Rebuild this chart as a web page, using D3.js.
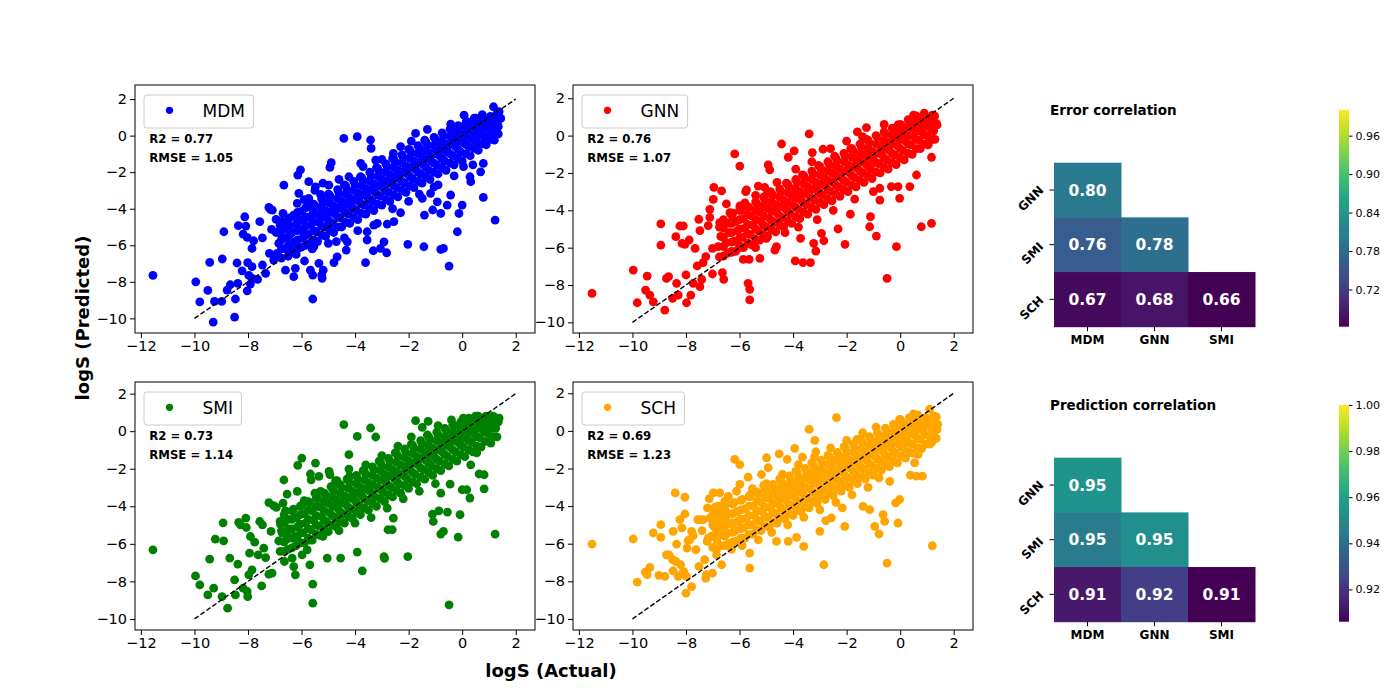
<!DOCTYPE html>
<html>
<head>
<meta charset="utf-8">
<script src="https://cdn.jsdelivr.net/npm/d3@7"></script>
<style>
body { margin: 0; background: #fff; }
text { font-family: "DejaVu Sans", sans-serif; }
</style>
</head>
<body>
<svg id="chart" width="1400" height="700"></svg>
<script>
// ---- data ----
const models = ["MDM", "GNN", "SMI", "SCH"];
const modelColors = ["#0000ff", "#ff0000", "#008000", "#ffa500"];
const r2Values = ["0.77", "0.76", "0.73", "0.69"];
const rmseValues = ["1.05", "1.07", "1.14", "1.23"];
const xTicks = [-12, -10, -8, -6, -4, -2, 0, 2];
const yTicks = [2, 0, -2, -4, -6, -8, -10];
const identityLine = [-10, 2];

// [actual, predicted] pairs
const mdmPoints = [
[-11.55,-7.65],[-9.95,-8.0],[-9.8,-9.1],[-9.5,-8.47],[-9.43,-6.94],[-9.3,-10.2],[-9.25,-9.07],[-8.98,-9.07],[-8.9,-5.26],[-8.96,-6.75],
[-8.78,-8.45],[-8.66,-8.16],[-8.47,-8.94],[-8.5,-9.93],[-8.41,-6.97],[-8.38,-8.09],[-8.36,-4.93],[-8.22,-7.4],[-8.18,-5.39],[-8.12,-4.44],
[-8.08,-4.95],[-8.03,-5.57],[-8.01,-6.95],[-8.03,-8.49],[-7.97,-7.65],[-7.91,-8.12],[-7.85,-7.17],[-7.85,-6.17],[-7.79,-5.75],[-7.84,-7.81],
[-7.64,-7.87],[-7.56,-4.71],[-7.46,-5.6],[-7.46,-7.08],[-7.34,-7.54],[-7.22,-3.93],[-7.2,-6.44],[-7.16,-4.04],[-7.12,-5.13],[-7.09,-4.08],
[-7.04,-6.81],[-6.95,-4.58],[-6.91,-6.44],[-6.73,-5.57],[-6.66,-2.71],[-6.69,-4.26],[-6.63,-4.9],[-6.54,-6.08],[-6.6,-7.36],[-6.29,-7.72],
[-6.23,-7.26],[-6.29,-4.35],[-6.23,-5.81],[-6.14,-2.16],[-6.04,-1.88],[-6.1,-3.16],[-6.16,-3.71],[-6.04,-4.62],[-5.98,-5.2],[-5.89,-6.86],
[-5.73,-2.52],[-5.73,-3.43],[-5.67,-7.36],[-5.58,-7.63],[-5.58,-8.94],[-5.54,-6.08],[-5.48,-2.8],[-5.35,-6.99],[-5.29,-3.22],[-5.25,-7.63],
[-5.23,-7.81],[-5.19,-7.36],[-4.98,-2.71],[-4.94,-1.74],[-4.89,-1.48],[-4.98,-3.62],[-4.79,-6.95],[-4.67,-6.63],[-4.42,-0.15],[-4.23,-2.25],
[-4.29,-5.81],[-4.33,-6.26],[-3.92,-0.06],[-3.79,-1.52],[-3.61,-6.95],[-3.55,-5.26],[-3.55,-5.71],[-3.42,-0.24],[-3.4,-0.7],[-3.32,-6.3],
[-3.23,-1.34],[-3.17,-4.8],[-3.05,-6.17],[-2.92,-5.81],[-2.82,-6.41],[-2.8,-4.84],[-2.57,-0.97],[-2.55,-4.71],[-2.3,-4.22],[-2.03,-5.95],
[-1.74,0.12],[-1.43,-6.08],[-1.41,-4.35],[-1.3,0.34],[-1.18,-3.16],[-1.1,-4.07],[-0.8,-4.26],[-0.8,-6.23],[-0.7,-6.17],[-0.49,-7.14],
[-0.43,0.63],[-0.18,-5.26],[-0.12,-4.26],[0,-3.8],[0.07,1.12],[0.29,-2.25],[0.79,-3.38],[1.17,1.58],[1.23,-4.62],[1.38,1.31],
[1.44,0.94],[0.32,-2.52],[0.69,-1.98],[0.79,-1.52],[0.54,-0.7],[0.05,-1.7],[-0.43,-3.25],[-0.56,-3.8],[-0.93,-3.62],[-1.05,-2.8],[-1.49,-3.43],
[-5.9,-3.5],[-5.5,-3.0],[-5.2,-2.6],[-4.6,-2.4],[-3.7,-1.7],[-3.0,-1.3],[-2.3,-0.6],[-1.9,-0.3],[-4.4,-5.6],[-3.9,-5.2],
[-3.3,-4.9],[-2.6,-4.0],[-2.0,-3.6],[-1.6,-3.2],[-0.9,-2.7],[-0.3,-2.2],[0.4,-1.6],[-6.5,-6.6],[-6.2,-6.5],[-5.6,-6.2],[-5.0,-5.9],[-4.7,-5.8],
[-6.9,-6.5],[-6.85,-5.9],[-6.95,-5.3],[-6.8,-4.9],[-6.6,-6.2],[-6.55,-5.6],[-6.65,-5.1],[-6.5,-4.6],
[-6.3,-6.3],[-6.25,-5.8],[-6.35,-5.3],[-6.2,-4.85],[-6.3,-4.4],[-6.0,-6.1],[-5.95,-5.6],[-6.05,-5.1],[-5.9,-4.6],[-6.0,-4.15],
[-5.7,-5.9],[-5.75,-5.4],[-5.65,-4.9],[-5.7,-4.45],[-5.6,-4.0],[-5.75,-3.6],[-5.4,-5.8],[-5.45,-5.25],[-5.35,-4.75],[-5.4,-4.3],[-5.5,-3.85],
[-5.1,-5.5],[-5.15,-5.0],[-5.05,-4.55],[-5.1,-4.1],[-5.2,-3.65],[-5.0,-3.2],[-4.8,-5.3],[-4.85,-4.8],[-4.75,-4.3],[-4.8,-3.85],[-4.9,-3.4],
[-4.5,-5.0],[-4.55,-4.5],[-4.45,-4.05],[-4.5,-3.6],[-4.6,-3.15],[-4.4,-2.7],[-4.2,-4.8],[-4.25,-4.3],[-4.15,-3.85],[-4.2,-3.4],[-4.3,-2.95],
[-3.9,-4.6],[-3.95,-4.1],[-3.85,-3.6],[-3.9,-3.15],[-4.0,-2.7],[-3.8,-2.25],[-3.6,-4.3],[-3.65,-3.8],[-3.55,-3.35],[-3.6,-2.9],[-3.7,-2.45],
[-3.3,-4.1],[-3.35,-3.6],[-3.25,-3.1],[-3.3,-2.65],[-3.4,-2.2],[-3.2,-1.75],[-3.0,-3.8],[-3.05,-3.3],[-2.95,-2.85],[-3.0,-2.4],[-3.1,-1.95],
[-2.7,-3.6],[-2.75,-3.1],[-2.65,-2.6],[-2.7,-2.15],[-2.8,-1.7],[-2.6,-1.25],[-2.4,-3.35],[-2.45,-2.85],[-2.35,-2.35],[-2.4,-1.9],[-2.5,-1.45],
[-2.1,-3.1],[-2.15,-2.6],[-2.05,-2.1],[-2.1,-1.65],[-2.2,-1.2],[-2.0,-0.75],[-1.8,-2.85],[-1.85,-2.35],[-1.75,-1.85],[-1.8,-1.4],[-1.9,-0.95],
[-1.5,-2.6],[-1.55,-2.1],[-1.45,-1.6],[-1.5,-1.15],[-1.6,-0.7],[-1.4,-0.25],[-1.2,-2.4],[-1.25,-1.9],[-1.15,-1.4],[-1.2,-0.95],[-1.3,-0.5],
[-0.9,-2.1],[-0.95,-1.6],[-0.85,-1.1],[-0.9,-0.65],[-1.0,-0.2],[-0.6,-1.9],[-0.65,-1.4],[-0.55,-0.9],[-0.6,-0.45],[-0.7,0.0],
[-0.3,-1.6],[-0.35,-1.1],[-0.25,-0.6],[-0.3,-0.15],[-0.4,0.3],[0.0,-1.4],[-0.05,-0.9],[0.05,-0.4],[0.0,0.05],[-0.1,0.5],
[0.3,-1.1],[0.25,-0.6],[0.35,-0.15],[0.3,0.3],[0.2,0.75],[0.6,-0.8],[0.55,-0.35],[0.65,0.1],[0.6,0.55],[0.5,0.95],
[0.9,-0.5],[0.85,-0.05],[0.95,0.4],[0.9,0.8],[1.2,-0.25],[1.15,0.2],[1.25,0.6],[1.1,1.0],[1.3,0.85]
];
// the dense core of the MDM cloud
const mdmCore = [
[-6.75,-6.7],[-6.75,-6.2],[-6.75,-5.7],[-6.75,-5.2],[-6.75,-4.7],[-6.45,-6.45],[-6.45,-5.95],[-6.45,-5.45],[-6.45,-4.95],[-6.45,-4.5],
[-6.15,-6.2],[-6.15,-5.7],[-6.15,-5.2],[-6.15,-4.7],[-6.15,-4.2],[-5.85,-6.0],[-5.85,-5.45],[-5.85,-4.95],[-5.85,-4.45],[-5.85,-3.95],
[-5.55,-5.7],[-5.55,-5.2],[-5.55,-4.7],[-5.55,-4.2],[-5.55,-3.75],[-5.25,-5.45],[-5.25,-4.95],[-5.25,-4.45],[-5.25,-3.95],[-5.25,-3.45],
[-4.95,-5.2],[-4.95,-4.7],[-4.95,-4.2],[-4.95,-3.7],[-4.95,-3.25],[-4.65,-5.0],[-4.65,-4.45],[-4.65,-3.95],[-4.65,-3.45],[-4.65,-2.95],
[-4.35,-4.75],[-4.35,-4.2],[-4.35,-3.7],[-4.35,-3.2],[-4.35,-2.75],[-4.05,-4.5],[-4.05,-4.0],[-4.05,-3.5],[-4.05,-3.0],[-4.05,-2.5],
[-3.75,-4.25],[-3.75,-3.75],[-3.75,-3.25],[-3.75,-2.75],[-3.75,-2.3],[-3.45,-4.0],[-3.45,-3.5],[-3.45,-3.0],[-3.45,-2.5],[-3.45,-2.0],
[-3.15,-3.75],[-3.15,-3.25],[-3.15,-2.75],[-3.15,-2.25],[-3.15,-1.8],[-2.85,-3.5],[-2.85,-3.0],[-2.85,-2.5],[-2.85,-2.0],[-2.85,-1.55],
[-2.55,-3.25],[-2.55,-2.75],[-2.55,-2.25],[-2.55,-1.75],[-2.55,-1.3],[-2.25,-3.0],[-2.25,-2.5],[-2.25,-2.0],[-2.25,-1.5],[-2.25,-1.05],
[-1.95,-2.75],[-1.95,-2.25],[-1.95,-1.75],[-1.95,-1.25],[-1.95,-0.8],[-1.65,-2.5],[-1.65,-2.0],[-1.65,-1.5],[-1.65,-1.0],[-1.65,-0.55],
[-1.35,-2.25],[-1.35,-1.75],[-1.35,-1.25],[-1.35,-0.8],[-1.35,-0.35],[-1.05,-2.0],[-1.05,-1.5],[-1.05,-1.0],[-1.05,-0.55],[-1.05,-0.1],
[-0.75,-1.75],[-0.75,-1.25],[-0.75,-0.75],[-0.75,-0.3],[-0.75,0.15],[-0.45,-1.5],[-0.45,-1.0],[-0.45,-0.5],[-0.45,-0.05],[-0.45,0.35],
[-0.15,-1.25],[-0.15,-0.75],[-0.15,-0.3],[-0.15,0.15],[-0.15,0.55],[0.15,-1.0],[0.15,-0.5],[0.15,-0.05],[0.15,0.4],[0.15,0.75],
[0.45,-0.7],[0.45,-0.25],[0.45,0.2],[0.45,0.6],[0.45,0.95],[0.75,-0.45],[0.75,0.0],[0.75,0.4],[0.75,0.8],[0.75,1.15],
[1.05,-0.2],[1.05,0.25],[1.05,0.65],[1.05,1.05],[1.35,0.1],[1.35,0.5],[1.35,0.85],[1.3,1.2]
];

const gnnPoints = [
[-11.51,-8.45],[-9.97,-7.2],[-9.82,-8.95],[-9.45,-7.52],[-9.51,-8.27],[-9.35,-8.54],[-9.22,-8.9],[-8.94,-4.73],[-8.94,-5.86],[-8.79,-9.34],
[-8.73,-7.64],[-8.65,-7.55],[-8.5,-8.71],[-8.38,-5.41],[-8.35,-7.91],[-8.29,-8.54],[-8.23,-4.84],[-8.15,-5.77],[-8.1,-4.84],[-8.04,-5.82],
[-8.0,-7.46],[-7.98,-8.95],[-7.88,-5.59],[-7.82,-8.54],[-7.73,-7.91],[-7.66,-6.04],[-7.58,-6.98],[-7.52,-4.48],[-7.48,-5.09],[-7.48,-8.09],
[-7.41,-7.7],[-7.36,-6.8],[-7.26,-6.48],[-7.17,-4.82],[-7.11,-4.38],[-7.11,-3.95],[-7.01,-6.04],[-7.01,-7.41],[-6.98,-3.41],[-6.96,-2.77],
[-6.74,-4.66],[-6.67,-2.96],[-6.64,-7.34],[-6.59,-7.7],[-6.49,-3.66],[-6.36,-4.13],[-6.26,-4.52],[-6.18,-0.98],[-5.99,-1.63],[-5.99,-3.77],
[-5.86,-6.63],[-5.77,-3.0],[-5.74,-2.91],[-5.68,-7.91],[-5.62,-8.23],[-5.62,-8.8],[-5.64,-6.63],[-5.3,-2.7],[-5.24,-6.57],[-5.06,-2.77],
[-4.97,-3.09],[-4.93,-1.57],[-4.87,-1.84],[-4.68,-6.13],[-4.62,-5.95],[-4.43,-0.45],[-4.18,-1.16],[-3.96,-0.82],[-3.92,-6.71],[-3.72,-5.5],
[-3.63,-6.8],[-3.4,0.09],[-3.35,-6.8],[-3.28,-0.91],[-3.23,-5.77],[-3.15,-6.18],[-2.94,-5.23],[-2.88,-0.73],[-2.85,-5.63],[-2.32,-5.0],
[-2.06,-5.82],[-1.86,-4.21],[-1.41,-0.05],[-1.26,0.43],[-1.14,-4.88],[-1.11,-4.34],[-0.89,-5.38],[-0.76,-3.45],[-0.49,-7.64],[-0.14,-5.95],
[-0.08,0.57],[-0.02,-3.36],[0.36,-2.73],[0.61,-2.11],[0.79,-4.88],[1.17,-1.16],[1.17,-4.7],[1.38,0.57],[1.29,1.05],[1.04,-0.5],
[-0.08,-2.73],[-0.33,-2.73],[-0.76,-2.82],
[-6.0,-5.9],[-6.3,-6.2],[-5.4,-6.0],[-5.0,-5.5],[-4.3,-5.2],[-3.8,-4.9],[-3.1,-4.5],[-2.5,-4.0],[-1.7,-3.4],[-1.0,-3.0],
[-5.8,-3.6],[-5.4,-3.2],[-4.6,-2.5],[-3.9,-1.8],[-3.3,-1.4],[-2.6,-0.7],[-2.0,-0.3],[-1.6,0.2],[-0.6,0.6],[0.5,1.1],[0.9,1.2],[1.2,0.8],
[-6.75,-6.5],[-6.8,-5.95],[-6.7,-5.4],[-6.75,-4.9],[-6.45,-6.3],[-6.5,-5.75],[-6.4,-5.2],[-6.45,-4.7],
[-6.15,-6.2],[-6.2,-5.65],[-6.1,-5.1],[-6.15,-4.6],[-6.25,-4.15],[-5.85,-6.0],[-5.9,-5.45],[-5.8,-4.95],[-5.85,-4.45],[-5.95,-4.0],
[-5.55,-5.85],[-5.6,-5.3],[-5.5,-4.8],[-5.55,-4.3],[-5.65,-3.85],[-5.25,-5.6],[-5.3,-5.1],[-5.2,-4.6],[-5.25,-4.1],[-5.35,-3.65],
[-4.95,-5.4],[-5.0,-4.9],[-4.9,-4.4],[-4.95,-3.9],[-5.05,-3.45],[-4.85,-3.0],[-4.65,-5.15],[-4.7,-4.65],[-4.6,-4.15],[-4.65,-3.7],[-4.75,-3.2],
[-4.35,-4.9],[-4.4,-4.4],[-4.3,-3.9],[-4.35,-3.45],[-4.45,-3.0],[-4.25,-2.55],[-4.05,-4.7],[-4.1,-4.2],[-4.0,-3.7],[-4.05,-3.2],[-4.15,-2.75],
[-3.75,-4.45],[-3.8,-3.95],[-3.7,-3.45],[-3.75,-3.0],[-3.85,-2.5],[-3.65,-2.1],[-3.45,-4.2],[-3.5,-3.7],[-3.4,-3.2],[-3.45,-2.75],[-3.55,-2.3],
[-3.15,-3.95],[-3.2,-3.45],[-3.1,-2.95],[-3.15,-2.5],[-3.25,-2.05],[-3.05,-1.6],[-2.85,-3.7],[-2.9,-3.2],[-2.8,-2.7],[-2.85,-2.25],[-2.95,-1.8],
[-2.55,-3.5],[-2.6,-3.0],[-2.5,-2.5],[-2.55,-2.0],[-2.65,-1.55],[-2.45,-1.1],[-2.25,-3.25],[-2.3,-2.75],[-2.2,-2.25],[-2.25,-1.8],[-2.35,-1.35],
[-1.95,-3.0],[-2.0,-2.5],[-1.9,-2.0],[-1.95,-1.55],[-2.05,-1.1],[-1.85,-0.7],[-1.65,-2.75],[-1.7,-2.25],[-1.6,-1.75],[-1.65,-1.3],[-1.75,-0.85],
[-1.35,-2.5],[-1.4,-2.0],[-1.3,-1.5],[-1.35,-1.05],[-1.45,-0.6],[-1.25,-0.2],[-1.05,-2.3],[-1.1,-1.8],[-1.0,-1.3],[-1.05,-0.85],[-1.15,-0.4],
[-0.75,-2.0],[-0.8,-1.5],[-0.7,-1.0],[-0.75,-0.55],[-0.85,-0.1],[-0.45,-1.8],[-0.5,-1.3],[-0.4,-0.8],[-0.45,-0.35],[-0.55,0.1],
[-0.15,-1.55],[-0.2,-1.05],[-0.1,-0.55],[-0.15,-0.1],[-0.25,0.3],[0.15,-1.3],[0.1,-0.8],[0.2,-0.3],[0.15,0.15],[0.05,0.55],
[0.45,-1.0],[0.4,-0.5],[0.5,-0.05],[0.45,0.4],[0.35,0.8],[0.75,-0.7],[0.7,-0.25],[0.8,0.2],[0.75,0.6],[0.65,1.0],
[1.05,-0.45],[1.0,0.0],[1.1,0.45],[1.05,0.85],[1.3,-0.2],[1.25,0.25],[1.35,0.65],[1.2,1.0]
];
const gnnCore = [
[-6.6,-6.45],[-6.6,-5.95],[-6.6,-5.45],[-6.6,-4.95],[-6.6,-4.5],[-6.3,-6.25],[-6.3,-5.7],[-6.3,-5.2],[-6.3,-4.7],[-6.3,-4.25],
[-6.0,-6.0],[-6.0,-5.5],[-6.0,-5.0],[-6.0,-4.5],[-6.0,-4.0],[-5.7,-5.75],[-5.7,-5.25],[-5.7,-4.75],[-5.7,-4.25],[-5.7,-3.8],
[-5.4,-5.55],[-5.4,-5.0],[-5.4,-4.5],[-5.4,-4.0],[-5.4,-3.55],[-5.1,-5.3],[-5.1,-4.8],[-5.1,-4.3],[-5.1,-3.8],[-5.1,-3.3],
[-4.8,-5.05],[-4.8,-4.55],[-4.8,-4.05],[-4.8,-3.55],[-4.8,-3.1],[-4.5,-4.8],[-4.5,-4.3],[-4.5,-3.8],[-4.5,-3.3],[-4.5,-2.85],
[-4.2,-4.6],[-4.2,-4.05],[-4.2,-3.55],[-4.2,-3.05],[-4.2,-2.6],[-3.9,-4.35],[-3.9,-3.85],[-3.9,-3.35],[-3.9,-2.85],[-3.9,-2.35],
[-3.6,-4.1],[-3.6,-3.6],[-3.6,-3.1],[-3.6,-2.6],[-3.6,-2.15],[-3.3,-3.85],[-3.3,-3.35],[-3.3,-2.85],[-3.3,-2.35],[-3.3,-1.9],
[-3.0,-3.6],[-3.0,-3.1],[-3.0,-2.6],[-3.0,-2.1],[-3.0,-1.65],[-2.7,-3.4],[-2.7,-2.9],[-2.7,-2.4],[-2.7,-1.9],[-2.7,-1.4],
[-2.4,-3.15],[-2.4,-2.65],[-2.4,-2.15],[-2.4,-1.65],[-2.4,-1.2],[-2.1,-2.9],[-2.1,-2.4],[-2.1,-1.9],[-2.1,-1.4],[-2.1,-0.95],
[-1.8,-2.65],[-1.8,-2.15],[-1.8,-1.65],[-1.8,-1.15],[-1.8,-0.7],[-1.5,-2.4],[-1.5,-1.9],[-1.5,-1.4],[-1.5,-0.95],[-1.5,-0.45],
[-1.2,-2.15],[-1.2,-1.65],[-1.2,-1.15],[-1.2,-0.7],[-1.2,-0.25],[-0.9,-1.95],[-0.9,-1.45],[-0.9,-0.95],[-0.9,-0.45],[-0.9,0.0],
[-0.6,-1.7],[-0.6,-1.2],[-0.6,-0.7],[-0.6,-0.25],[-0.6,0.2],[-0.3,-1.45],[-0.3,-0.95],[-0.3,-0.45],[-0.3,0.0],[-0.3,0.4],
[0.0,-1.2],[0.0,-0.7],[0.0,-0.2],[0.0,0.2],[0.0,0.6],[0.3,-0.95],[0.3,-0.45],[0.3,0.0],[0.3,0.45],[0.3,0.85],
[0.6,-0.7],[0.6,-0.2],[0.6,0.25],[0.6,0.65],[0.6,1.05],[0.9,-0.45],[0.9,0.05],[0.9,0.5],[0.9,0.9],
[1.2,-0.2],[1.2,0.3],[1.2,0.7],[1.2,1.1]
];

const smiPoints = [
[-11.55,-6.32],[-9.96,-7.71],[-9.8,-8.19],[-9.5,-8.72],[-9.43,-6.82],[-9.28,-8.36],[-9.22,-5.75],[-8.97,-8.81],[-8.93,-4.88],[-8.91,-5.84],
[-8.76,-9.43],[-8.68,-6.76],[-8.47,-8.72],[-8.38,-7.08],[-8.35,-4.86],[-8.28,-4.99],[-8.5,-7.92],[-8.18,-8.36],[-8.08,-4.63],[-8.06,-5.13],
[-8.03,-8.54],[-8.01,-8.81],[-7.97,-7.65],[-7.94,-6.5],[-7.91,-5.61],[-7.85,-7.39],[-7.75,-5.91],[-7.62,-6.59],[-7.56,-4.81],[-7.46,-4.99],
[-7.49,-8.24],[-7.41,-6.23],[-7.34,-6.73],[-7.22,-3.8],[-7.22,-7.62],[-7.14,-5.34],[-7.1,-7.56],[-7.04,-3.96],[-6.94,-4.06],[-6.79,-4.95],
[-6.72,-5.43],[-6.69,-3.83],[-6.66,-2.6],[-6.64,-6.94],[-6.54,-3.35],[-6.54,-5.34],[-6.35,-6.76],[-6.29,-7.21],[-6.23,-7.65],[-6.16,-3.21],
[-6.14,-1.82],[-5.99,-1.43],[-5.98,-6.59],[-5.79,-6.32],[-5.69,-7.12],[-5.67,-2.28],[-5.64,-2.59],[-5.58,-8.15],[-5.58,-9.16],[-5.48,-1.7],
[-5.35,-2.41],[-5.29,-3.21],[-5.04,-6.76],[-4.97,-2.14],[-4.94,-2.32],[-4.73,-2.64],[-4.67,-2.64],[-4.54,-6.76],[-4.42,0.35],[-4.23,-1.25],
[-4.23,-2.02],[-3.92,-0.28],[-3.92,-6.44],[-3.73,-7.44],[-3.42,0.17],[-3.23,-0.31],[-2.92,-6.68],[-2.9,-6.77],[-2.77,-5.25],[-2.61,-5.25],
[-2.57,-4.63],[-2.03,-6.68],[-1.74,0.56],[-1.49,0.2],[-1.27,0.52],[-1.11,-4.42],[-1.08,-4.81],[-0.87,-4.24],[-0.8,-5.48],[-0.7,-5.34],
[-0.8,-3.3],[-0.55,-4.31],[-0.49,-9.25],[-0.45,-2.82],[-0.15,-5.64],[-0.08,-4.45],[0.0,-3.12],[0.17,-3.12],[0.29,-3.56],[0.32,-1.79],
[0.54,-1.16],[0.63,-2.28],[0.82,-2.32],[0.82,-3.07],[1.07,-0.63],[1.23,-5.48],[0.04,0.7],[1.38,0.7],
[-6.1,-5.9],[-5.7,-5.8],[-5.2,-5.6],[-4.6,-5.3],[-4.0,-4.9],[-3.4,-4.6],[-2.8,-4.1],[-2.2,-3.6],[-1.6,-3.2],[-1.0,-2.8],
[-5.9,-3.7],[-5.5,-3.3],[-4.8,-2.9],[-4.2,-2.4],[-3.6,-1.8],[-3.0,-1.3],[-2.4,-0.8],[-1.9,-0.3],[-0.9,0.3],[-0.4,0.6],[0.5,0.8],[0.9,0.8],
[-6.8,-6.4],[-6.85,-5.85],[-6.75,-5.3],[-6.8,-4.8],[-6.5,-6.3],[-6.55,-5.75],[-6.45,-5.2],[-6.5,-4.7],[-6.6,-4.25],
[-6.2,-6.1],[-6.25,-5.6],[-6.15,-5.1],[-6.2,-4.6],[-6.3,-4.15],[-5.9,-5.95],[-5.95,-5.4],[-5.85,-4.9],[-5.9,-4.4],[-6.0,-3.95],
[-5.6,-5.8],[-5.65,-5.25],[-5.55,-4.75],[-5.6,-4.25],[-5.7,-3.8],[-5.3,-5.55],[-5.35,-5.05],[-5.25,-4.55],[-5.3,-4.05],[-5.4,-3.6],
[-5.0,-5.35],[-5.05,-4.85],[-4.95,-4.35],[-5.0,-3.85],[-5.1,-3.4],[-4.9,-2.95],[-4.7,-5.1],[-4.75,-4.6],[-4.65,-4.1],[-4.7,-3.65],[-4.8,-3.2],
[-4.4,-4.9],[-4.45,-4.4],[-4.35,-3.9],[-4.4,-3.45],[-4.5,-3.0],[-4.3,-2.55],[-4.1,-4.65],[-4.15,-4.15],[-4.05,-3.65],[-4.1,-3.2],[-4.2,-2.75],
[-3.8,-4.45],[-3.85,-3.95],[-3.75,-3.45],[-3.8,-3.0],[-3.9,-2.55],[-3.7,-2.1],[-3.5,-4.2],[-3.55,-3.7],[-3.45,-3.2],[-3.5,-2.75],[-3.6,-2.3],
[-3.2,-4.0],[-3.25,-3.5],[-3.15,-3.0],[-3.2,-2.5],[-3.3,-2.05],[-3.1,-1.6],[-2.9,-3.75],[-2.95,-3.25],[-2.85,-2.75],[-2.9,-2.3],[-3.0,-1.85],
[-2.6,-3.5],[-2.65,-3.0],[-2.55,-2.5],[-2.6,-2.05],[-2.7,-1.6],[-2.5,-1.15],[-2.3,-3.3],[-2.35,-2.8],[-2.25,-2.3],[-2.3,-1.8],[-2.4,-1.35],
[-2.0,-3.05],[-2.05,-2.55],[-1.95,-2.05],[-2.0,-1.6],[-2.1,-1.15],[-1.9,-0.7],[-1.7,-2.8],[-1.75,-2.3],[-1.65,-1.8],[-1.7,-1.35],[-1.8,-0.9],
[-1.4,-2.55],[-1.45,-2.05],[-1.35,-1.55],[-1.4,-1.1],[-1.5,-0.65],[-1.3,-0.2],[-1.1,-2.35],[-1.15,-1.85],[-1.05,-1.35],[-1.1,-0.9],[-1.2,-0.45],
[-0.8,-2.1],[-0.85,-1.6],[-0.75,-1.1],[-0.8,-0.65],[-0.9,-0.2],[-0.5,-1.85],[-0.55,-1.35],[-0.45,-0.85],[-0.5,-0.4],[-0.6,0.05],
[-0.2,-1.6],[-0.25,-1.1],[-0.15,-0.6],[-0.2,-0.15],[-0.3,0.3],[0.1,-1.35],[0.05,-0.85],[0.15,-0.4],[0.1,0.05],[0.0,0.45],
[0.4,-1.1],[0.35,-0.6],[0.45,-0.15],[0.4,0.3],[0.3,0.65],[0.7,-0.85],[0.65,-0.35],[0.75,0.1],[0.7,0.5],[0.6,0.8],
[1.0,-0.55],[0.95,-0.1],[1.05,0.3],[1.0,0.65],[1.3,-0.3],[1.25,0.15],[1.35,0.5],[1.2,0.75]
];
const smiCore = [
[-6.65,-6.4],[-6.65,-5.9],[-6.65,-5.4],[-6.65,-4.9],[-6.65,-4.45],[-6.35,-6.2],[-6.35,-5.7],[-6.35,-5.2],[-6.35,-4.7],[-6.35,-4.25],
[-6.05,-5.95],[-6.05,-5.45],[-6.05,-4.95],[-6.05,-4.45],[-6.05,-4.0],[-5.75,-5.7],[-5.75,-5.2],[-5.75,-4.7],[-5.75,-4.2],[-5.75,-3.75],
[-5.45,-5.5],[-5.45,-5.0],[-5.45,-4.5],[-5.45,-4.0],[-5.45,-3.55],[-5.15,-5.25],[-5.15,-4.75],[-5.15,-4.25],[-5.15,-3.75],[-5.15,-3.3],
[-4.85,-5.0],[-4.85,-4.5],[-4.85,-4.0],[-4.85,-3.5],[-4.85,-3.05],[-4.55,-4.8],[-4.55,-4.3],[-4.55,-3.8],[-4.55,-3.3],[-4.55,-2.85],
[-4.25,-4.55],[-4.25,-4.05],[-4.25,-3.55],[-4.25,-3.05],[-4.25,-2.6],[-3.95,-4.3],[-3.95,-3.8],[-3.95,-3.3],[-3.95,-2.8],[-3.95,-2.35],
[-3.65,-4.1],[-3.65,-3.6],[-3.65,-3.1],[-3.65,-2.6],[-3.65,-2.15],[-3.35,-3.85],[-3.35,-3.35],[-3.35,-2.85],[-3.35,-2.35],[-3.35,-1.9],
[-3.05,-3.6],[-3.05,-3.1],[-3.05,-2.6],[-3.05,-2.1],[-3.05,-1.65],[-2.75,-3.4],[-2.75,-2.9],[-2.75,-2.4],[-2.75,-1.9],[-2.75,-1.45],
[-2.45,-3.15],[-2.45,-2.65],[-2.45,-2.15],[-2.45,-1.65],[-2.45,-1.2],[-2.15,-2.9],[-2.15,-2.4],[-2.15,-1.9],[-2.15,-1.4],[-2.15,-0.95],
[-1.85,-2.7],[-1.85,-2.2],[-1.85,-1.7],[-1.85,-1.2],[-1.85,-0.75],[-1.55,-2.45],[-1.55,-1.95],[-1.55,-1.45],[-1.55,-0.95],[-1.55,-0.5],
[-1.25,-2.2],[-1.25,-1.7],[-1.25,-1.2],[-1.25,-0.75],[-1.25,-0.3],[-0.95,-2.0],[-0.95,-1.5],[-0.95,-1.0],[-0.95,-0.5],[-0.95,-0.05],
[-0.65,-1.75],[-0.65,-1.25],[-0.65,-0.75],[-0.65,-0.3],[-0.65,0.15],[-0.35,-1.5],[-0.35,-1.0],[-0.35,-0.5],[-0.35,-0.05],[-0.35,0.35],
[-0.05,-1.25],[-0.05,-0.75],[-0.05,-0.3],[-0.05,0.15],[-0.05,0.5],[0.25,-1.0],[0.25,-0.5],[0.25,-0.05],[0.25,0.35],[0.25,0.7],
[0.55,-0.8],[0.55,-0.3],[0.55,0.15],[0.55,0.55],[0.55,0.8],[0.85,-0.55],[0.85,-0.05],[0.85,0.4],[0.85,0.75],
[1.15,-0.3],[1.15,0.15],[1.15,0.55],[1.15,0.8]
];

const schPoints = [
[-11.51,-6.02],[-9.97,-5.75],[-9.82,-8.04],[-9.52,-7.51],[-9.45,-7.65],[-9.35,-7.26],[-9.22,-5.43],[-9.01,-7.69],[-8.94,-5.66],[-8.94,-4.99],
[-8.79,-7.74],[-8.73,-6.59],[-8.63,-6.59],[-8.5,-6.85],[-8.48,-5.34],[-8.48,-7.44],[-8.4,-3.3],[-8.38,-6.94],[-8.35,-6.02],[-8.29,-7.74],
[-8.23,-4.72],[-8.2,-7.12],[-8.15,-5.16],[-8.13,-7.56],[-8.08,-7.48],[-8.04,-3.53],[-8.04,-4.42],[-8.0,-8.63],[-7.98,-7.74],[-7.96,-6.23],
[-7.92,-5.84],[-7.86,-5.79],[-7.79,-8.28],[-7.79,-5.34],[-7.73,-5.57],[-7.63,-6.32],[-7.56,-4.72],[-7.51,-7.21],[-7.48,-4.72],[-7.36,-4.72],
[-7.3,-6.85],[-7.26,-7.83],[-7.23,-7.65],[-7.21,-5.88],[-7.17,-5.7],[-7.13,-3.6],[-7.11,-4.63],[-7.01,-7.56],[-6.98,-3.3],[-6.98,-4.42],
[-6.92,-4.06],[-6.86,-6.59],[-6.8,-4.9],[-6.74,-3.3],[-6.67,-7.12],[-6.61,-5.25],[-6.55,-3.74],[-6.42,-3.48],[-6.36,-6.05],[-6.26,-4.99],
[-6.18,-1.52],[-6.11,-3.21],[-5.99,-1.79],[-5.99,-2.85],[-5.68,-2.46],[-5.62,-7.3],[-5.62,-6.5],[-5.52,-3.07],[-5.18,-2.32],[-4.93,-1.96],
[-4.99,-1.43],[-4.62,-5.88],[-4.52,-1.22],[-4.22,-1.52],[-4.18,-5.88],[-3.94,-0.93],[-3.87,-5.66],[-3.65,-1.4],[-3.6,-6.14],[-3.4,0.08],
[-3.19,-0.51],[-3.15,-1.11],[-3.0,-5.34],[-2.85,-7.12],[-2.78,-4.77],[-2.57,-4.63],[-2.38,0.7],[-2.36,-1.47],[-2.16,-4.1],[-2.07,-5.08],
[-1.61,-0.45],[-1.39,-4.01],[-1.14,-4.19],[-0.95,-5.08],[-0.79,-5.48],[-0.64,-4.45],[-0.58,-4.81],[-0.49,-7.03],[-0.17,-3.83],[-0.08,-4.9],
[-0.02,-3.65],[-0.02,0.61],[0.38,-2.36],[0.61,-2.41],[0.83,-2.41],[0.54,-1.7],[0.67,-1.25],[1.17,-0.63],[1.1,1.15],[1.2,-6.11],
[1.35,0.74],[1.38,0.08],[-0.79,-2.5],[-0.39,-2.68],
[-7.4,-5.3],[-7.0,-5.0],[-6.6,-4.4],[-7.2,-4.1],[-6.3,-6.3],[-5.9,-6.1],[-5.3,-5.8],[-4.8,-5.4],[-4.2,-5.0],[-3.6,-4.6],
[-3.0,-4.2],[-2.4,-3.8],[-1.8,-3.4],[-1.2,-3.0],[-5.6,-3.4],[-5.0,-2.8],[-4.4,-2.3],[-3.8,-1.8],[-3.2,-1.4],[-2.6,-0.9],
[-2.0,-0.5],[-1.4,-0.1],[-0.9,0.2],[0.0,0.6],[0.5,0.9],
[-7.0,-6.2],[-7.05,-5.6],[-6.95,-5.1],[-7.0,-4.6],[-6.7,-6.1],[-6.75,-5.55],[-6.65,-5.0],[-6.7,-4.5],[-6.8,-4.0],
[-6.4,-6.0],[-6.45,-5.45],[-6.35,-4.9],[-6.4,-4.4],[-6.5,-3.9],[-6.1,-5.85],[-6.15,-5.3],[-6.05,-4.8],[-6.1,-4.3],[-6.2,-3.8],
[-5.8,-5.7],[-5.85,-5.15],[-5.75,-4.65],[-5.8,-4.15],[-5.9,-3.65],[-5.5,-5.5],[-5.55,-5.0],[-5.45,-4.5],[-5.5,-4.0],[-5.6,-3.5],
[-5.2,-5.3],[-5.25,-4.8],[-5.15,-4.3],[-5.2,-3.8],[-5.3,-3.35],[-5.1,-2.9],[-4.9,-5.1],[-4.95,-4.6],[-4.85,-4.1],[-4.9,-3.6],[-5.0,-3.15],
[-4.6,-4.9],[-4.65,-4.4],[-4.55,-3.9],[-4.6,-3.45],[-4.7,-3.0],[-4.5,-2.55],[-4.3,-4.7],[-4.35,-4.2],[-4.25,-3.7],[-4.3,-3.25],[-4.4,-2.8],
[-4.0,-4.5],[-4.05,-4.0],[-3.95,-3.5],[-4.0,-3.05],[-4.1,-2.6],[-3.9,-2.15],[-3.7,-4.3],[-3.75,-3.8],[-3.65,-3.3],[-3.7,-2.85],[-3.8,-2.4],
[-3.4,-4.1],[-3.45,-3.6],[-3.35,-3.1],[-3.4,-2.6],[-3.5,-2.15],[-3.3,-1.7],[-3.1,-3.85],[-3.15,-3.35],[-3.05,-2.85],[-3.1,-2.4],[-3.2,-1.95],
[-2.8,-3.65],[-2.85,-3.15],[-2.75,-2.65],[-2.8,-2.2],[-2.9,-1.75],[-2.7,-1.3],[-2.5,-3.45],[-2.55,-2.95],[-2.45,-2.45],[-2.5,-2.0],[-2.6,-1.55],
[-2.2,-3.2],[-2.25,-2.7],[-2.15,-2.2],[-2.2,-1.75],[-2.3,-1.3],[-2.1,-0.85],[-1.9,-3.0],[-1.95,-2.5],[-1.85,-2.0],[-1.9,-1.55],[-2.0,-1.1],
[-1.6,-2.8],[-1.65,-2.3],[-1.55,-1.8],[-1.6,-1.35],[-1.7,-0.9],[-1.5,-0.45],[-1.3,-2.55],[-1.35,-2.05],[-1.25,-1.55],[-1.3,-1.1],[-1.4,-0.65],
[-1.0,-2.35],[-1.05,-1.85],[-0.95,-1.35],[-1.0,-0.9],[-1.1,-0.45],[-0.7,-2.1],[-0.75,-1.6],[-0.65,-1.1],[-0.7,-0.65],[-0.8,-0.2],
[-0.4,-1.9],[-0.45,-1.4],[-0.35,-0.9],[-0.4,-0.45],[-0.5,0.0],[-0.1,-1.7],[-0.15,-1.2],[-0.05,-0.7],[-0.1,-0.25],[-0.2,0.2],
[0.2,-1.45],[0.15,-0.95],[0.25,-0.5],[0.2,-0.05],[0.1,0.4],[0.5,-1.2],[0.45,-0.7],[0.55,-0.25],[0.5,0.2],[0.4,0.6],
[0.8,-0.95],[0.75,-0.45],[0.85,0.0],[0.8,0.4],[1.1,-0.7],[1.05,-0.25],[1.15,0.2],[1.1,0.55],[1.35,-0.4],[1.3,0.0],[1.4,0.35]
];
const schCore = [
[-6.85,-6.3],[-6.85,-5.8],[-6.85,-5.3],[-6.85,-4.8],[-6.85,-4.3],[-6.55,-6.1],[-6.55,-5.6],[-6.55,-5.1],[-6.55,-4.6],[-6.55,-4.1],
[-6.25,-5.9],[-6.25,-5.4],[-6.25,-4.9],[-6.25,-4.4],[-6.25,-3.9],[-5.95,-5.7],[-5.95,-5.2],[-5.95,-4.7],[-5.95,-4.2],[-5.95,-3.7],
[-5.65,-5.5],[-5.65,-5.0],[-5.65,-4.5],[-5.65,-4.0],[-5.65,-3.5],[-5.35,-5.25],[-5.35,-4.75],[-5.35,-4.25],[-5.35,-3.75],[-5.35,-3.25],
[-5.05,-5.05],[-5.05,-4.55],[-5.05,-4.05],[-5.05,-3.55],[-5.05,-3.1],[-4.75,-4.85],[-4.75,-4.35],[-4.75,-3.85],[-4.75,-3.35],[-4.75,-2.85],
[-4.45,-4.6],[-4.45,-4.1],[-4.45,-3.6],[-4.45,-3.1],[-4.45,-2.65],[-4.15,-4.4],[-4.15,-3.9],[-4.15,-3.4],[-4.15,-2.9],[-4.15,-2.4],
[-3.85,-4.2],[-3.85,-3.7],[-3.85,-3.2],[-3.85,-2.7],[-3.85,-2.2],[-3.55,-4.0],[-3.55,-3.5],[-3.55,-3.0],[-3.55,-2.5],[-3.55,-2.0],
[-3.25,-3.75],[-3.25,-3.25],[-3.25,-2.75],[-3.25,-2.25],[-3.25,-1.8],[-2.95,-3.55],[-2.95,-3.05],[-2.95,-2.55],[-2.95,-2.05],[-2.95,-1.55],
[-2.65,-3.3],[-2.65,-2.8],[-2.65,-2.3],[-2.65,-1.8],[-2.65,-1.35],[-2.35,-3.1],[-2.35,-2.6],[-2.35,-2.1],[-2.35,-1.6],[-2.35,-1.15],
[-2.05,-2.9],[-2.05,-2.4],[-2.05,-1.9],[-2.05,-1.4],[-2.05,-0.9],[-1.75,-2.65],[-1.75,-2.15],[-1.75,-1.65],[-1.75,-1.15],[-1.75,-0.7],
[-1.45,-2.45],[-1.45,-1.95],[-1.45,-1.45],[-1.45,-0.95],[-1.45,-0.5],[-1.15,-2.25],[-1.15,-1.75],[-1.15,-1.25],[-1.15,-0.75],[-1.15,-0.3],
[-0.85,-2.0],[-0.85,-1.5],[-0.85,-1.0],[-0.85,-0.55],[-0.85,-0.1],[-0.55,-1.8],[-0.55,-1.3],[-0.55,-0.8],[-0.55,-0.3],[-0.55,0.15],
[-0.25,-1.6],[-0.25,-1.1],[-0.25,-0.6],[-0.25,-0.1],[-0.25,0.35],[0.05,-1.35],[0.05,-0.85],[0.05,-0.35],[0.05,0.1],[0.05,0.5],
[0.35,-1.15],[0.35,-0.65],[0.35,-0.15],[0.35,0.3],[0.35,0.7],[0.65,-0.9],[0.65,-0.4],[0.65,0.05],[0.65,0.5],[0.65,0.85],
[0.95,-0.7],[0.95,-0.2],[0.95,0.3],[0.95,0.7],[1.25,-0.45],[1.25,0.05],[1.25,0.45],[1.25,0.8]
];

// correlation heatmaps (lower triangle, rows x cols)
const heatRows = ["GNN", "SMI", "SCH"];
const heatCols = ["MDM", "GNN", "SMI"];
const errorCorr = [[0.80], [0.76, 0.783], [0.67, 0.68, 0.662]];
const predCorr = [[0.9545], [0.9452, 0.9525], [0.912, 0.923, 0.906]];
const errorTicks = [0.72, 0.78, 0.84, 0.90, 0.96];
const predTicks = [0.92, 0.94, 0.96, 0.98, 1.00];
const corrMax = 1.0;

// ---- drawing ----
const svg = d3.select("#chart");
const font = "DejaVu Sans";
const xDomain = [-12.22, 2.72];
const panelW = 400, panelH = 248;
const panels = [
  { points: mdmPoints.concat(mdmCore), left: 135, top: 85, yDomain: [-10.8, 2.77] },
  { points: gnnPoints.concat(gnnCore), left: 573, top: 85, yDomain: [-10.57, 2.71] },
  { points: smiPoints.concat(smiCore), left: 135, top: 382, yDomain: [-10.59, 2.62] },
  { points: schPoints.concat(schCore), left: 573, top: 382, yDomain: [-10.59, 2.6] }
];

panels.forEach((p, i) => {
  const color = modelColors[i];
  const x = d3.scaleLinear().domain(xDomain).range([p.left, p.left + panelW]);
  const y = d3.scaleLinear().domain(p.yDomain).range([p.top + panelH, p.top]);
  const g = svg.append("g");

  g.append("g")
    .selectAll("circle")
    .data(p.points)
    .join("circle")
    .attr("cx", d => x(d[0]))
    .attr("cy", d => y(d[1]))
    .attr("r", 4.4)
    .attr("fill", color);

  g.append("line") // y = x reference
    .attr("x1", x(identityLine[0]))
    .attr("y1", y(identityLine[0]))
    .attr("x2", x(identityLine[1]))
    .attr("y2", y(identityLine[1]))
    .attr("stroke", "#000")
    .attr("stroke-width", 1.4)
    .attr("stroke-dasharray", "5,2.3");

  g.append("rect")
    .attr("x", p.left)
    .attr("y", p.top)
    .attr("width", panelW)
    .attr("height", panelH)
    .attr("fill", "none")
    .attr("stroke", "#000")
    .attr("stroke-width", 1);

  const xAxis = g.append("g")
    .attr("transform", `translate(0,${p.top + panelH})`)
    .call(d3.axisBottom(x).tickValues(xTicks).tickSize(5).tickPadding(3));
  const yAxis = g.append("g")
    .attr("transform", `translate(${p.left},0)`)
    .call(d3.axisLeft(y).tickValues(yTicks).tickSize(5).tickPadding(3));
  [xAxis, yAxis].forEach(a => {
    a.select(".domain").remove();
    a.selectAll("line").attr("stroke", "#000");
    a.selectAll("text").attr("font-size", 14.5).attr("font-family", font).attr("fill", "#000");
  });

  // legend
  const lg = g.append("g");
  const lgText = lg.append("text")
    .attr("x", p.left + 67.5)
    .attr("y", p.top + 32)
    .attr("font-size", 17)
    .attr("fill", "#000")
    .text(models[i]);
  const tw = lgText.node().getComputedTextLength();
  lg.insert("rect", "text")
    .attr("x", p.left + 9)
    .attr("y", p.top + 10)
    .attr("width", 58.5 + tw + 8.5)
    .attr("height", 33)
    .attr("rx", 3)
    .attr("fill", "#fff")
    .attr("fill-opacity", 0.8)
    .attr("stroke", "#cccccc");
  lg.append("circle")
    .attr("cx", p.left + 34.5)
    .attr("cy", p.top + 25.3)
    .attr("r", 3.6)
    .attr("fill", color);

  g.append("text")
    .attr("x", p.left + 14.3)
    .attr("y", p.top + 58.3)
    .attr("font-size", 11.7)
    .attr("font-weight", "bold")
    .text(`R2 = ${r2Values[i]}`);
  g.append("text")
    .attr("x", p.left + 14.3)
    .attr("y", p.top + 76.7)
    .attr("font-size", 11.7)
    .attr("font-weight", "bold")
    .text(`RMSE = ${rmseValues[i]}`);
});

svg.append("text")
  .attr("transform", "translate(89,318) rotate(-90)")
  .attr("text-anchor", "middle")
  .attr("font-size", 18)
  .attr("font-weight", "bold")
  .text("logS (Predicted)");
svg.append("text")
  .attr("x", 551)
  .attr("y", 677)
  .attr("text-anchor", "middle")
  .attr("font-size", 18)
  .attr("font-weight", "bold")
  .text("logS (Actual)");

// heatmaps
const heatLeft = 1054, heatW = 201, heatH = 164;
const heatmaps = [
  { title: "Error correlation", values: errorCorr, ticks: errorTicks, top: 162.7 },
  { title: "Prediction correlation", values: predCorr, ticks: predTicks, top: 457.7 }
];
const defs = svg.append("defs");

heatmaps.forEach((h, k) => {
  const vmin = d3.min(h.values.flat());
  const color = d3.scaleSequential(d3.interpolateViridis).domain([vmin, corrMax]);
  const x = d3.scaleBand().domain(heatCols).range([heatLeft, heatLeft + heatW]);
  const y = d3.scaleBand().domain(heatRows).range([h.top, h.top + heatH]);
  const g = svg.append("g");

  const cells = [];
  h.values.forEach((row, r) => row.forEach((v, c) => cells.push({ row: heatRows[r], col: heatCols[c], v })));

  g.selectAll("rect.cell")
    .data(cells)
    .join("rect")
    .attr("class", "cell")
    .attr("x", d => x(d.col))
    .attr("y", d => y(d.row))
    .attr("width", x.bandwidth() + 0.5)
    .attr("height", y.bandwidth() + 0.5)
    .attr("fill", d => color(d.v));

  g.selectAll("text.val")
    .data(cells)
    .join("text")
    .attr("class", "val")
    .attr("x", d => x(d.col) + x.bandwidth() / 2)
    .attr("y", d => y(d.row) + y.bandwidth() / 2)
    .attr("dy", "0.36em")
    .attr("text-anchor", "middle")
    .attr("font-size", 15.5)
    .attr("font-weight", "bold")
    .attr("fill", "#fff")
    .text(d => d3.format(".2f")(d.v));

  g.append("text")
    .attr("x", 1050)
    .attr("y", h.top - 47.7)
    .attr("font-size", 13.5)
    .attr("font-weight", "bold")
    .text(h.title);

  // x labels
  heatCols.forEach(c => {
    const cx = x(c) + x.bandwidth() / 2;
    g.append("line")
      .attr("x1", cx).attr("x2", cx)
      .attr("y1", h.top + heatH).attr("y2", h.top + heatH + 4.5)
      .attr("stroke", "#000");
    g.append("text")
      .attr("x", cx)
      .attr("y", h.top + heatH + 17)
      .attr("text-anchor", "middle")
      .attr("font-size", 12)
      .attr("font-weight", "bold")
      .text(c);
  });

  // y labels, rotated
  heatRows.forEach(r => {
    const cy = y(r) + y.bandwidth() / 2;
    g.append("line")
      .attr("x1", heatLeft - 4.5).attr("x2", heatLeft)
      .attr("y1", cy).attr("y2", cy)
      .attr("stroke", "#000");
    const t = g.append("text")
      .attr("text-anchor", "middle")
      .attr("dy", "0.35em")
      .attr("font-size", 12)
      .attr("font-weight", "bold")
      .text(r);
    const w = t.node().getComputedTextLength();
    const half = (w + 9) * 0.354;
    t.attr("transform", `translate(${1044.5 - half},${cy + 8.5}) rotate(-45)`);
  });

  // colorbar
  const cbTop = h.top - 52.7, cbBottom = h.top + heatH, cbX = 1339;
  const grad = defs.append("linearGradient")
    .attr("id", "cb" + k)
    .attr("x1", 0).attr("y1", 1).attr("x2", 0).attr("y2", 0);
  d3.range(0, 1.0001, 0.1).forEach(t => {
    grad.append("stop").attr("offset", t).attr("stop-color", d3.interpolateViridis(t));
  });
  g.append("rect")
    .attr("x", cbX)
    .attr("y", cbTop)
    .attr("width", 10)
    .attr("height", cbBottom - cbTop)
    .attr("fill", `url(#cb${k})`);
  const cb = d3.scaleLinear().domain([vmin, corrMax]).range([cbBottom, cbTop]);
  const cbAxis = g.append("g")
    .attr("transform", `translate(${cbX + 10},0)`)
    .call(d3.axisRight(cb).tickValues(h.ticks).tickSize(3.5).tickPadding(3).tickFormat(d3.format(".2f")));
  cbAxis.select(".domain").remove();
  cbAxis.selectAll("line").attr("stroke", "#000");
  cbAxis.selectAll("text").attr("font-size", 11).attr("font-family", font).attr("fill", "#000");
});
</script>
</body>
</html>
